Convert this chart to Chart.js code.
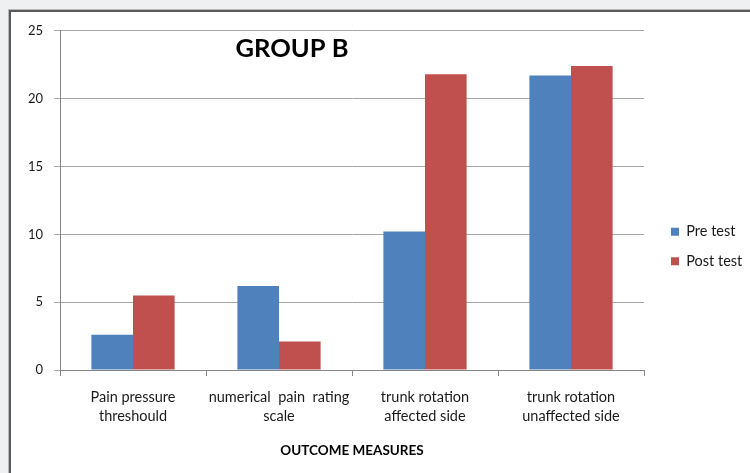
<!DOCTYPE html>
<html>
<head>
<meta charset="utf-8">
<title>GROUP B</title>
<script src="https://cdn.jsdelivr.net/npm/chart.js@4.4.1/dist/chart.umd.min.js"></script>
<style>
  html, body { margin: 0; padding: 0; }
  body { background: #eff0f2; width: 750px; height: 473px; overflow: hidden; position: relative; }
  .frame {
    position: absolute; left: 9px; top: 10px; width: 760px; height: 480px;
    border-left: 2px solid #5a5a5a; border-top: 2px solid #5a5a5a;
    box-shadow: -1px -1px 0 #b8b8b8;
    background: #fff;
  }
  #chart { position: absolute; left: 0; top: 0; }
</style>
</head>
<body>
<div class="frame">
  <canvas id="chart" width="739" height="461"></canvas>
</div>
<script>
var categories = [
  ["Pain pressure", "threshould"],
  ["numerical  pain  rating", "scale"],
  ["trunk rotation", "affected side"],
  ["trunk rotation", "unaffected side"]
];
var preTest = [2.6, 6.2, 10.2, 21.7];
var postTest = [5.5, 2.1, 21.8, 22.4];
var yMax = 25;
var yStep = 5;

var FONT = "Lato, 'Open Sans', sans-serif";
var AXIS = "#868686";
var GRID = "#a6a6a6";

// title sits inside the plot, left of centre, like the original
var insideTitle = {
  id: "insideTitle",
  afterDraw: function (chart) {
    var ctx = chart.ctx;
    ctx.save();
    ctx.font = "bold 25.5px " + FONT;
    ctx.fillStyle = "#000";
    ctx.textAlign = "center";
    ctx.textBaseline = "middle";
    ctx.fillText("GROUP B", chart.chartArea.left + 232, chart.chartArea.top + 18);
    ctx.restore();
  }
};

// move the legend off the plot to the right-hand margin
var legendSpot = {
  id: "legendSpot",
  afterLayout: function (chart) {
    var lg = chart.legend;
    var w = lg.width, h = lg.height;
    lg.left = chart.chartArea.right + 12;
    lg.right = lg.left + w;
    lg.top = 197.5;
    lg.bottom = lg.top + h;
  }
};

new Chart(document.getElementById("chart"), {
  type: "bar",
  data: {
    labels: categories,
    datasets: [
      { label: "Pre test", data: preTest, backgroundColor: "#4f81bd", borderWidth: 0 },
      { label: "Post test", data: postTest, backgroundColor: "#c0504d", borderWidth: 0 }
    ]
  },
  options: {
    responsive: false,
    animation: false,
    layout: { padding: { top: 18, right: 106, bottom: 0, left: 0 } },
    datasets: { bar: { categoryPercentage: 0.57, barPercentage: 1 } },
    scales: {
      x: {
        afterFit: function (s) { s.height = 103; },
        grid: { drawOnChartArea: false, drawTicks: true, tickLength: 6, color: AXIS, offset: true },
        border: { color: AXIS, width: 1 },
        ticks: { color: "#1a1a1a", padding: 12, font: { family: FONT, size: 14.5, lineHeight: 1.31 }, maxRotation: 0 },
        title: {
          display: true, text: "OUTCOME MEASURES", color: "#000",
          font: { family: FONT, size: 13.5, weight: "bold", lineHeight: 1.2 },
          padding: { top: 0, bottom: 14 }
        }
      },
      y: {
        min: 0, max: yMax,
        afterFit: function (s) { s.width = 49; },
        grid: { color: GRID, tickLength: 6 },
        border: { color: AXIS, width: 1 },
        ticks: { stepSize: yStep, color: "#1a1a1a", padding: 11, font: { family: FONT, size: 13 } }
      }
    },
    plugins: {
      legend: {
        position: "chartArea",
        align: "start",
        labels: { boxWidth: 8, boxHeight: 8, padding: 15, color: "#1a1a1a", font: { family: FONT, size: 14.5 } }
      },
      tooltip: { enabled: false }
    }
  },
  plugins: [insideTitle, legendSpot]
});
</script>
</body>
</html>
